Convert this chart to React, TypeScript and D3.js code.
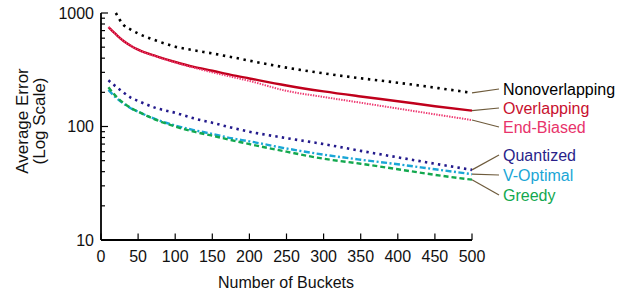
import React from "react";
import * as d3 from "d3";

// buckets sampled along the x axis
const buckets = [10, 20, 30, 40, 50, 75, 100, 125, 150, 175, 200, 250, 300, 350, 400, 450, 500];

const nonoverlapping = [null, 1000, 790, 715, 660, 570, 505, 470, 440, 410, 380, 330, 294, 266, 243, 220, 198];
const overlapping = [750, 650, 570, 515, 475, 415, 370, 335, 310, 285, 265, 230, 204, 184, 167, 151, 138];
const endBiased = [750, 650, 570, 515, 474, 412, 366, 330, 300, 275, 252, 206, 182, 162, 144, 128, 114];
const quantized = [255, 225, 200, 180, 168, 145, 132, 118, 108, 98, 90, 79, 70, 61, 53.5, 47, 41.5];
const vOptimal = [210, 180, 160, 145, 135, 115, 102, 93, 86, 79, 74, 64, 56.5, 51, 46.5, 42, 38];
const greedy = [222, 185, 162, 146, 135, 114, 100, 90, 83, 76, 70, 60, 52, 47, 42, 37.5, 34];

const xTicks = [0, 50, 100, 150, 200, 250, 300, 350, 400, 450, 500];
const yTicks = [10, 100, 1000];

const seriesList = [
  { name: "Nonoverlapping", values: nonoverlapping, color: "#000000", text: "#000000", dash: "2.4 4.6", width: 2.6, labelY: 89 },
  { name: "Overlapping", values: overlapping, color: "#c0001c", text: "#c8102e", dash: null, width: 2.4, labelY: 108 },
  { name: "End-Biased", values: endBiased, color: "#ee3a72", text: "#e8336b", dash: "1.4 1.2", width: 2, labelY: 127 },
  { name: "Quantized", values: quantized, color: "#231a8c", text: "#2a1f8a", dash: "2.4 4.2", width: 2.6, labelY: 155 },
  { name: "V-Optimal", values: vOptimal, color: "#1aa6d6", text: "#1aa6d6", dash: "6 2.5 2 2.5", width: 2.4, labelY: 175 },
  { name: "Greedy", values: greedy, color: "#13a84f", text: "#13a84f", dash: "5 3", width: 2.4, labelY: 195 },
];

const W = 626;
const H = 291;

export default function App() {
  const x = d3.scaleLinear().domain([0, 500]).range([101, 472]);
  const y = d3.scaleLog().domain([10, 1000]).range([240, 13]);

  const line = d3
    .line<[number, number | null]>()
    .defined((d) => d[1] != null)
    .x((d) => x(d[0]))
    .y((d) => y(d[1] as number))
    .curve(d3.curveMonotoneX);

  // minor log ticks 20..90, 200..900
  const minor: number[] = [];
  [10, 100].forEach((b) => {
    for (let k = 2; k <= 9; k++) minor.push(b * k);
  });

  const font = "Liberation Sans, Arial, sans-serif";
  const leaderStart = x(500);

  return (
    <svg
      width={W}
      height={H}
      style={{ position: "absolute", left: 0, top: 0, background: "#fff" }}
      fontFamily={font}
    >
      {/* series */}
      {seriesList.map((s) => (
        <path
          key={s.name}
          d={line(buckets.map((b, i) => [b, s.values[i]]) as [number, number | null][]) || ""}
          fill="none"
          stroke={s.color}
          strokeWidth={s.width}
          strokeDasharray={s.dash || undefined}
        />
      ))}

      {/* leader lines + labels */}
      {seriesList.map((s) => {
        const last = s.values[s.values.length - 1] as number;
        return (
          <g key={"lab" + s.name}>
            <line
              x1={leaderStart}
              y1={y(last)}
              x2={499}
              y2={s.labelY}
              stroke="#6e5b3c"
              strokeWidth={1.2}
            />
            <text x={503} y={s.labelY} dy="0.36em" fontSize={16} fill={s.text}>
              {s.name}
            </text>
          </g>
        );
      })}

      {/* axes */}
      <line x1={x(0)} y1={y(1000)} x2={x(0)} y2={y(10)} stroke="#000" strokeWidth={1.8} />
      <line x1={x(0)} y1={y(10)} x2={x(500)} y2={y(10)} stroke="#000" strokeWidth={1.8} />

      {xTicks.map((t) => (
        <g key={"xt" + t}>
          <line x1={x(t)} x2={x(t)} y1={y(10)} y2={y(10) - 6.5} stroke="#000" strokeWidth={1.2} />
          <text x={x(t)} y={256} dy="0.36em" textAnchor="middle" fontSize={16} fill="#111">
            {t}
          </text>
        </g>
      ))}

      {yTicks.map((t) => (
        <g key={"yt" + t}>
          <line x1={x(0)} x2={x(0) + 7} y1={y(t)} y2={y(t)} stroke="#000" strokeWidth={1.2} />
          <text x={94} y={y(t)} dy="0.36em" textAnchor="end" fontSize={16} fill="#111">
            {t}
          </text>
        </g>
      ))}
      {minor.map((t) => (
        <line key={"mt" + t} x1={x(0)} x2={x(0) + 4} y1={y(t)} y2={y(t)} stroke="#000" strokeWidth={1.2} />
      ))}

      {/* axis titles */}
      <text x={286} y={282} dy="0.36em" textAnchor="middle" fontSize={16} fill="#111">
        Number of Buckets
      </text>
      <g transform="translate(22,121) rotate(-90)">
        <text x={0} y={0} dy="0.36em" textAnchor="middle" fontSize={17} fill="#111">
          Average Error
        </text>
        <text x={0} y={17} dy="0.36em" textAnchor="middle" fontSize={17} fill="#111">
          (Log Scale)
        </text>
      </g>
    </svg>
  );
}
